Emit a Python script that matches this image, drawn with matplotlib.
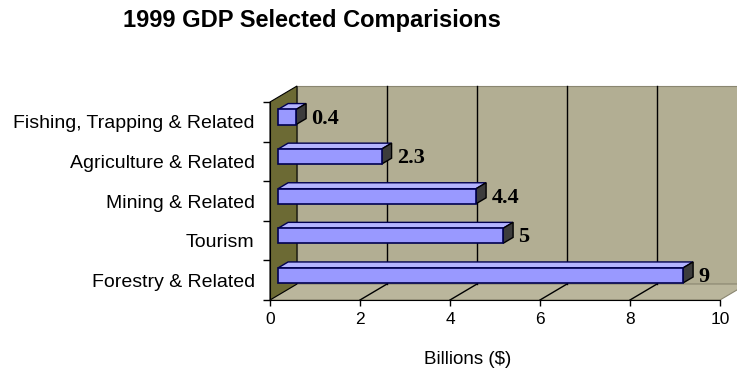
import matplotlib
matplotlib.use("Agg")
import matplotlib.pyplot as plt
from matplotlib.patches import Polygon

# data
categories = ['Forestry & Related', 'Tourism', 'Mining & Related',
              'Agriculture & Related', 'Fishing, Trapping & Related']
values = [9, 5, 4.4, 2.3, 0.4]
value_labels = ['9', '5', '4.4', '2.3', '0.4']
xticks = [0, 2, 4, 6, 8, 10]

plt.rcParams['font.family'] = ['Liberation Sans', 'DejaVu Sans']

fig = plt.figure(figsize=(7.37, 3.73), dpi=100)
W, H = 737, 373
ax = fig.add_axes([270 / W, (H - 300) / H, 450 / W, 198 / H])
ax.set_xlim(0, 10)
ax.set_ylim(-0.5, 4.5)
ax.set_facecolor('none')

# depth offset in data units (one full depth step)
DX, DY = 0.6, 0.404


def pt(x, y, d):
    return (x + d * DX, y + d * DY)


wall_c = '#b2ae93'
floor_c = '#bab69c'
side_c = '#6c6a34'

# back wall
ax.add_patch(Polygon([pt(0, -0.5, 1), pt(10, -0.5, 1), pt(10, 4.5, 1), pt(0, 4.5, 1)],
                     closed=True, facecolor=wall_c, edgecolor='#8a8670', lw=0.8,
                     clip_on=False, zorder=1))
# floor
ax.add_patch(Polygon([pt(0, -0.5, 0), pt(10, -0.5, 0), pt(10, -0.5, 1), pt(0, -0.5, 1)],
                     closed=True, facecolor=floor_c, edgecolor='#8a8670', lw=0.8,
                     clip_on=False, zorder=1))
# left wall
ax.add_patch(Polygon([pt(0, -0.5, 0), pt(0, -0.5, 1), pt(0, 4.5, 1), pt(0, 4.5, 0)],
                     closed=True, facecolor=side_c, edgecolor='black', lw=0.8,
                     clip_on=False, zorder=1))

# gridlines on back wall and floor
for x in xticks[1:-1]:
    a, b = pt(x, -0.5, 1), pt(x, 4.5, 1)
    ax.plot([a[0], b[0]], [a[1], b[1]], color='black', lw=1, zorder=2, clip_on=False)
    c, e = pt(x, -0.5, 0), pt(x, -0.5, 1)
    ax.plot([c[0], e[0]], [c[1], e[1]], color='black', lw=1, zorder=2, clip_on=False)

# 3d bars
d0, d1 = 0.3, 0.67
hh = 0.19
for i, v in enumerate(values):
    top = [pt(0, i + hh, d0), pt(v, i + hh, d0), pt(v, i + hh, d1), pt(0, i + hh, d1)]
    side = [pt(v, i - hh, d0), pt(v, i + hh, d0), pt(v, i + hh, d1), pt(v, i - hh, d1)]
    front = [pt(0, i - hh, d0), pt(v, i - hh, d0), pt(v, i + hh, d0), pt(0, i + hh, d0)]
    ax.add_patch(Polygon(top, closed=True, facecolor='#b4b4ff', edgecolor='#000050',
                         lw=1, zorder=4, clip_on=False))
    ax.add_patch(Polygon(side, closed=True, facecolor='#3c3c3c', edgecolor='black',
                         lw=1, zorder=4, clip_on=False))
    ax.add_patch(Polygon(front, closed=True, facecolor='#9999ff', edgecolor='#000050',
                         lw=1.2, zorder=5, clip_on=False))
    lx, ly = pt(v, i, d1)
    ax.text(lx + 0.12, ly - 0.19, value_labels[i], ha='left', va='center',
            fontsize=16, fontweight='bold', family='Liberation Serif', zorder=6)

# axes
for s in ['top', 'right']:
    ax.spines[s].set_visible(False)
ax.spines['left'].set_zorder(3)
ax.spines['bottom'].set_zorder(3)
ax.set_xticks(xticks)
ax.set_xticklabels([str(t) for t in xticks], fontsize=12.5)
ax.tick_params(axis='x', length=4, width=1, pad=5)
ax.set_yticks([-0.5, 0.5, 1.5, 2.5, 3.5, 4.5])
ax.set_yticklabels([])
ax.tick_params(axis='y', length=5, width=1)
ax.set_yticks(range(len(categories)), minor=True)
ax.set_yticklabels(categories, minor=True, fontsize=14)
ax.tick_params(axis='y', which='minor', length=0, pad=11)

ax.set_xlabel('Billions ($)', fontsize=13.5, va='center')
ax.xaxis.set_label_coords((468 - 270) / 450, -0.30)

fig.text(312 / W, 1 - 21 / H, '1999 GDP Selected Comparisions', ha='center', va='center',
         fontsize=17, fontweight='bold')

fig.savefig('out.png', dpi=100)
